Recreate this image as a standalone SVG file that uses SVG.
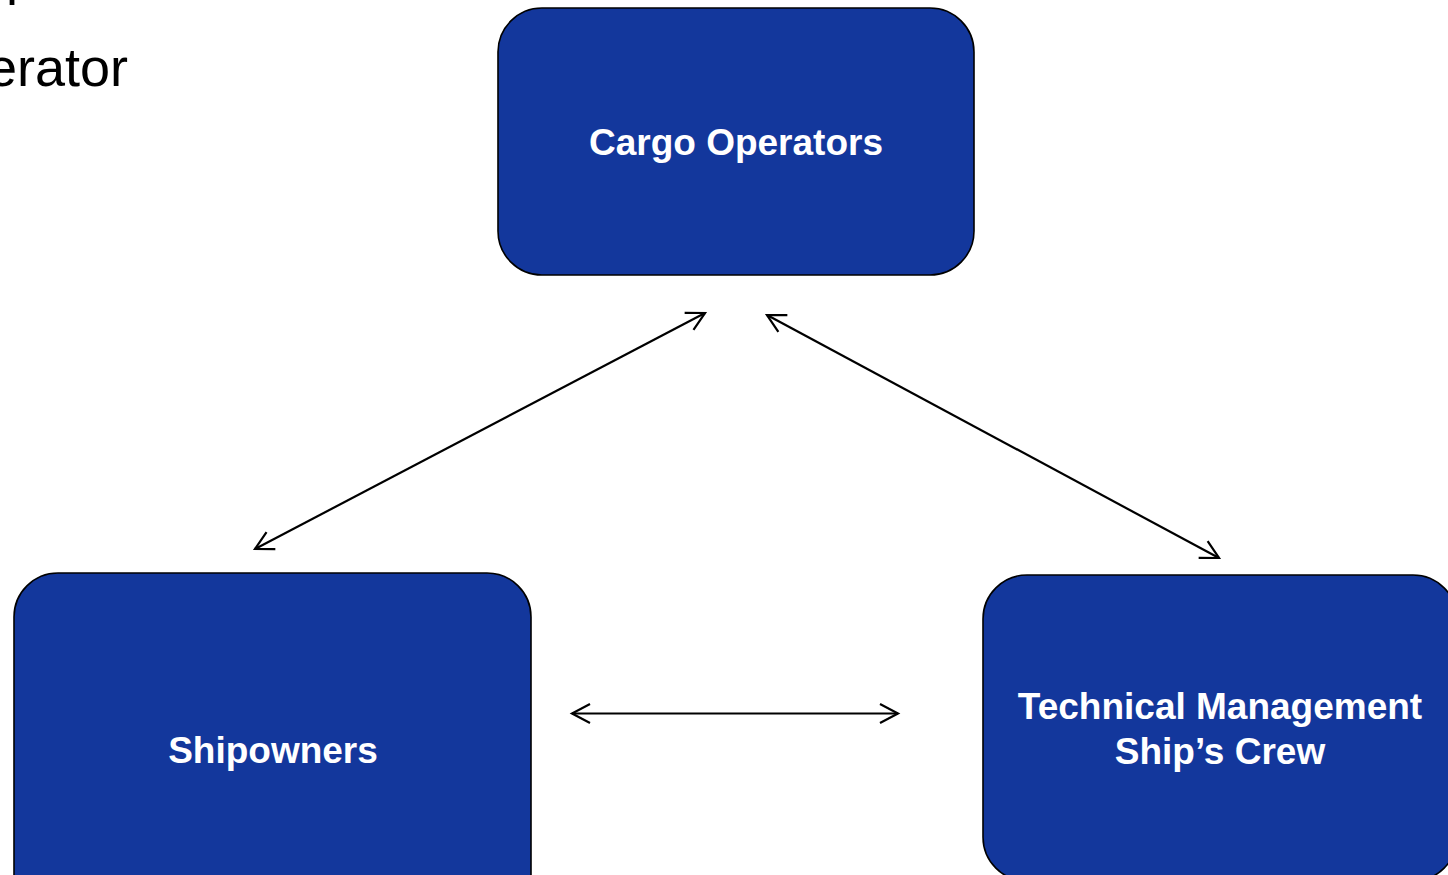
<svg xmlns="http://www.w3.org/2000/svg" width="1448" height="875" viewBox="0 0 1448 875">
  <style>
    .box { fill: #13379c; stroke: #000000; stroke-width: 1.6; }
    .label { font-family: "Liberation Sans", Arial, sans-serif; font-weight: bold; font-size: 37px; fill: #ffffff; text-anchor: middle; }
    .slide { font-family: "Liberation Sans", Arial, sans-serif; font-size: 54px; fill: #000000; }
    .link { stroke: #000000; stroke-width: 2.2; fill: none; marker-start: url(#chevron); marker-end: url(#chevron); }
  </style>
  <defs>
    <marker id="chevron" markerUnits="userSpaceOnUse" viewBox="-22 -12 26 24" refX="0" refY="0" markerWidth="26" markerHeight="24" orient="auto-start-reverse">
      <path d="M -18 -9.5 L 0 0 L -18 9.5" fill="none" stroke="#000000" stroke-width="2.2" stroke-linejoin="miter"/>
    </marker>
  </defs>

  <rect width="1448" height="875" fill="#ffffff"/>

  <!-- slide body text running off the left edge -->
  <g id="slide-text">
    <text class="slide" x="6" y="-6">p</text>
    <text class="slide" x="-13" y="86">erator</text>
  </g>

  <g id="cargo-operators">
    <rect class="box" x="498" y="8" width="476" height="267" rx="44" ry="44"/>
    <text class="label" x="736" y="155">Cargo Operators</text>
  </g>

  <g id="shipowners">
    <rect class="box" x="14" y="573" width="517" height="354" rx="44" ry="44"/>
    <text class="label" x="273" y="763">Shipowners</text>
  </g>

  <g id="technical-management">
    <rect class="box" x="983" y="575" width="474" height="306" rx="44" ry="44"/>
    <text class="label" x="1220" y="719">Technical Management</text>
    <text class="label" x="1220" y="764">Ship’s Crew</text>
  </g>

  <g id="connectors">
    <line class="link" x1="255" y1="549" x2="705" y2="313"/>
    <line class="link" x1="767" y1="315" x2="1219" y2="558"/>
    <line class="link" x1="572" y1="713.5" x2="898" y2="713.5"/>
  </g>
</svg>
